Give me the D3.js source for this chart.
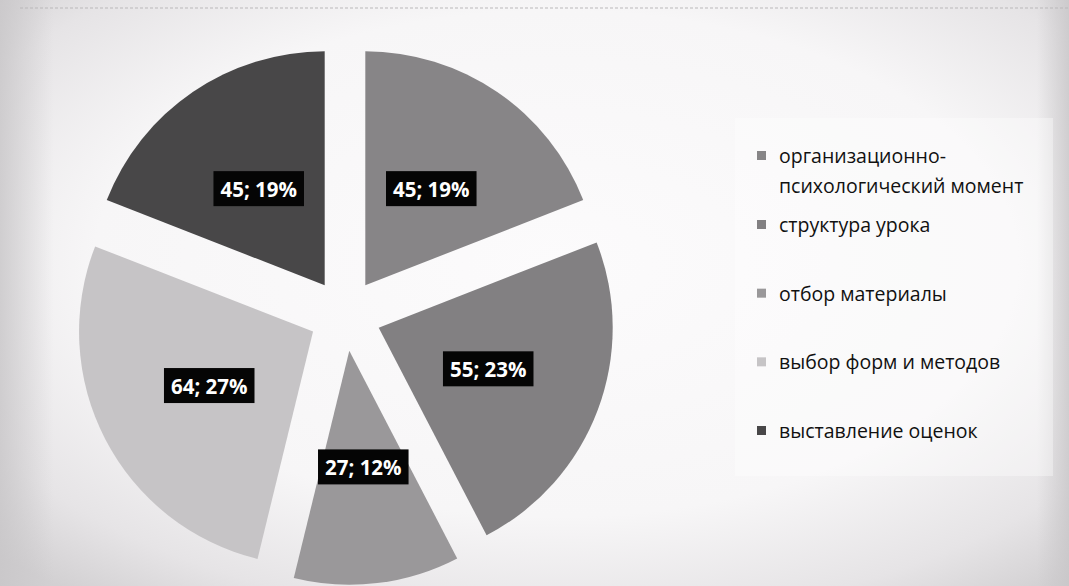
<!DOCTYPE html>
<html>
<head>
<meta charset="utf-8">
<script src="https://cdn.jsdelivr.net/npm/d3@7/dist/d3.min.js"></script>
<style>
  html, body { margin: 0; padding: 0; background: #f2f1f2; }
  svg { display: block; }
</style>
</head>
<body>
<svg id="chart" width="1069" height="586"></svg>
<script>
// ---- data ----
const categories = [
  "организационно-психологический момент",
  "структура урока",
  "отбор материалы",
  "выбор форм и методов",
  "выставление оценок"
];
const legendLines = [
  ["организационно-", "психологический момент"],
  ["структура урока"],
  ["отбор материалы"],
  ["выбор форм и методов"],
  ["выставление оценок"]
];
const values = [45, 55, 27, 64, 45];
const percentLabels = ["19%", "23%", "12%", "27%", "19%"];
const colors = ["#878587", "#828082", "#9a989a", "#c6c4c6", "#484748"];

// ---- layout ----
const W = 1069, H = 586;
const cx = 345, cy = 315, R = 234, explode = 36;

const svg = d3.select("#chart");
const defs = svg.append("defs");

// photo-like background vignette
const rg = defs.append("radialGradient").attr("id", "bg")
  .attr("cx", "52%").attr("cy", "45%").attr("r", "72%");
rg.append("stop").attr("offset", "0%").attr("stop-color", "#fcfbfc");
rg.append("stop").attr("offset", "60%").attr("stop-color", "#f7f6f7");
rg.append("stop").attr("offset", "85%").attr("stop-color", "#e6e4e6");
rg.append("stop").attr("offset", "100%").attr("stop-color", "#d2d0d2");
svg.append("rect").attr("width", W).attr("height", H).attr("fill", "url(#bg)");

// darker left and right edges of the photo
const lgr = defs.append("linearGradient").attr("id", "edges").attr("x1", "0%").attr("x2", "100%");
lgr.append("stop").attr("offset", "0%").attr("stop-color", "#c8c6c8").attr("stop-opacity", 0.8);
lgr.append("stop").attr("offset", "5%").attr("stop-color", "#c8c6c8").attr("stop-opacity", 0);
lgr.append("stop").attr("offset", "97%").attr("stop-color", "#c8c6c8").attr("stop-opacity", 0);
lgr.append("stop").attr("offset", "100%").attr("stop-color", "#c8c6c8").attr("stop-opacity", 0.8);
svg.append("rect").attr("width", W).attr("height", H).attr("fill", "url(#edges)");

// faint legend panel
svg.append("rect").attr("x", 735).attr("y", 118).attr("width", 318).attr("height", 358)
  .attr("fill", "#ffffff").attr("opacity", 0.35);

// top border line of the photographed slide
svg.append("line").attr("x1", 20).attr("x2", W).attr("y1", 8).attr("y2", 8)
  .attr("stroke", "#b9b7b9").attr("stroke-width", 1.2).attr("stroke-dasharray", "3,2");

// ---- pie ----
const pie = d3.pie().sort(null).value(d => d).startAngle(0).endAngle(2 * Math.PI);
const arcs = pie(values);
const arc = d3.arc().innerRadius(0).outerRadius(R);
const labelArc = d3.arc().innerRadius(R * 0.5).outerRadius(R * 0.5);

const g = svg.append("g").attr("transform", `translate(${cx},${cy})`);

const slices = g.selectAll("g.slice").data(arcs).join("g")
  .attr("class", "slice")
  .attr("transform", d => {
    const mid = (d.startAngle + d.endAngle) / 2;
    return `translate(${Math.sin(mid) * explode},${-Math.cos(mid) * explode})`;
  });

slices.append("path")
  .attr("d", arc)
  .attr("fill", (d, i) => colors[i]);

slices.each(function(d, i) {
  const [lx, ly] = labelArc.centroid(d);
  const sel = d3.select(this);
  const t = sel.append("text")
    .attr("x", lx).attr("y", ly)
    .attr("text-anchor", "middle")
    .attr("dominant-baseline", "central")
    .attr("font-family", "'Open Sans', 'DejaVu Sans', sans-serif")
    .attr("font-weight", "bold")
    .attr("font-size", 20.5)
    .attr("fill", "#ffffff")
    .text(`${values[i]}; ${percentLabels[i]}`);
  const bb = t.node().getBBox();
  sel.insert("rect", "text")
    .attr("x", lx - bb.width / 2 - 7)
    .attr("y", ly - 17.5)
    .attr("width", bb.width + 14)
    .attr("height", 35)
    .attr("fill", "#050505");
});

// ---- legend ----
const legendX = 757;
const lineH = 30;
const itemY = d3.scalePoint().domain(d3.range(1, categories.length)).range([232, 438]);
const firstBaseline = i => (i === 0 ? 163 : itemY(i));

const lg = svg.append("g");
categories.forEach((c, i) => {
  const y0 = firstBaseline(i);
  lg.append("rect")
    .attr("x", legendX).attr("y", y0 - 12)
    .attr("width", 9).attr("height", 9)
    .attr("fill", colors[i]);
  const t = lg.append("text")
    .attr("x", legendX + 22).attr("y", y0)
    .attr("font-family", "'Open Sans', 'DejaVu Sans', sans-serif")
    .attr("font-size", 19.5)
    .attr("fill", "#111111");
  legendLines[i].forEach((ln, k) => {
    t.append("tspan").attr("x", legendX + 22).attr("y", y0 + k * lineH).text(ln);
  });
});
</script>
</body>
</html>
